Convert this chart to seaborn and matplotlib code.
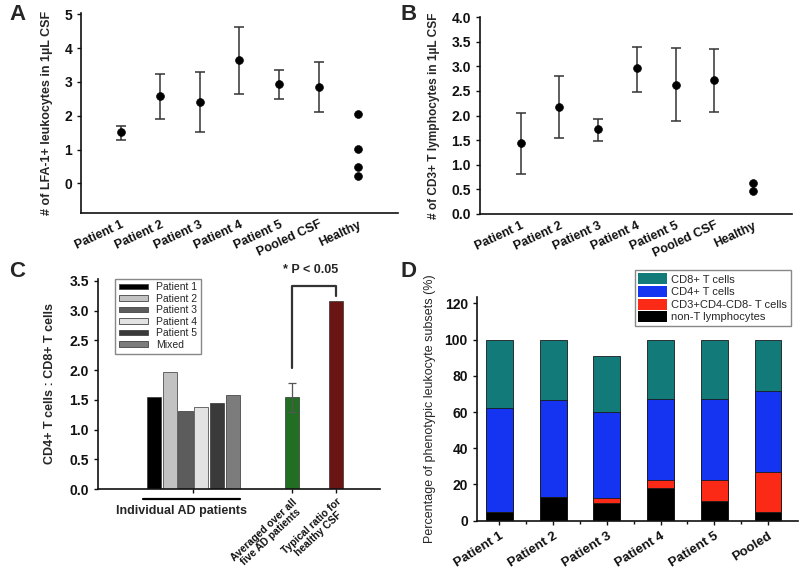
import numpy as np
import pandas as pd
import matplotlib.pyplot as plt
import seaborn as sns
from matplotlib.patches import Patch

sns.set_theme(style="ticks")
plt.rcParams['font.family'] = ['Liberation Sans', 'DejaVu Sans']

# ---------------------------------------------------
# data
# ---------------------------------------------------
groups = ["Patient 1", "Patient 2", "Patient 3", "Patient 4", "Patient 5", "Pooled CSF"]
healthy_label = "Healthy"

# A: LFA-1+ leukocytes per uL CSF
lfa_mean = [1.51, 2.57, 2.40, 3.64, 2.93, 2.86]
lfa_low = [1.28, 1.89, 1.51, 2.65, 2.51, 2.12]
lfa_high = [1.70, 3.25, 3.29, 4.63, 3.34, 3.59]
lfa_healthy = [2.04, 1.01, 0.47, 0.21]

# B: CD3+ T lymphocytes per uL CSF
cd3_mean = [1.44, 2.18, 1.72, 2.96, 2.63, 2.72]
cd3_low = [0.81, 1.55, 1.49, 2.48, 1.88, 2.07]
cd3_high = [2.05, 2.81, 1.93, 3.40, 3.37, 3.36]
cd3_healthy = [0.62, 0.46]

# C: CD4/CD8 ratio
ratio_labels = ["Patient 1", "Patient 2", "Patient 3", "Patient 4", "Patient 5", "Mixed"]
ratio_values = [1.55, 1.97, 1.31, 1.38, 1.44, 1.58]
summary_labels = ["Averaged over all\nfive AD patients", "Typical ratio for\nhealthy CSF"]
summary_values = [1.54, 3.17]
avg_low, avg_high = 1.30, 1.78

# D: phenotypic subsets (%)
subset_groups = ["Patient 1", "Patient 2", "Patient 3", "Patient 4", "Patient 5", "Pooled"]
non_t = [4.6, 12.9, 9.6, 18.0, 11.0, 4.8]
cd3_dn = [0.0, 0.0, 2.7, 4.3, 11.3, 21.9]
cd4 = [57.5, 53.8, 47.6, 44.7, 45.1, 44.8]
cd8 = [37.9, 33.3, 30.9, 33.0, 32.6, 28.5]
subset_names = ["CD8+ T cells", "CD4+ T cells", "CD3+CD4-CD8- T cells", "non-T lymphocytes"]

# ---------------------------------------------------
# styles / layout
# ---------------------------------------------------
ratio_colors = ['#000000', '#c2c2c2', '#5c5c5c', '#e2e2e2', '#3a3a3a', '#7c7c7c']
summary_colors = ['#167a16', '#780606']
subset_colors = ['#127a78', '#1434f2', '#fb2a16', '#000000']

fig = plt.figure(figsize=(8, 5.72), dpi=100)
axA = fig.add_axes([0.1013, 0.6276, 0.396, 0.349])
axB = fig.add_axes([0.600, 0.6259, 0.390, 0.345])
axC = fig.add_axes([0.1225, 0.1451, 0.3525, 0.368])
axD = fig.add_axes([0.596, 0.0897, 0.401, 0.391])

for ax in (axA, axB, axC, axD):
    sns.despine(ax=ax)
    for s in ('left', 'bottom'):
        ax.spines[s].set_linewidth(1.2)
        ax.spines[s].set_color('#111111')
    ax.tick_params(axis='both', colors='#111111', width=1, length=3)


def dot_panel(ax, mean, low, high, healthy, ylabel, ysize):
    df = pd.DataFrame({
        'group': groups + [healthy_label] * len(healthy),
        'value': mean + healthy,
    })
    sns.scatterplot(data=df, x='group', y='value', ax=ax, color='black',
                    s=32, edgecolor='black', zorder=3, legend=False)
    yerr = [np.subtract(mean, low), np.subtract(high, mean)]
    ax.errorbar(groups, mean, yerr=yerr, fmt='none', ecolor='#333333',
                elinewidth=1.1, capsize=3.5, capthick=1.1, zorder=2)
    ax.set_xlabel('')
    ax.set_ylabel(ylabel, fontsize=ysize, fontweight='bold', labelpad=8)
    ax.tick_params(axis='x', length=0, pad=4)
    for lab in ax.get_xticklabels():
        lab.set_rotation(25)
        lab.set_ha('right')
        lab.set_rotation_mode('anchor')
        lab.set_fontsize(9)
        lab.set_fontweight('bold')


# ---------------- A ----------------
dot_panel(axA, lfa_mean, lfa_low, lfa_high, lfa_healthy,
          "# of LFA-1+ leukocytes in 1\u00b5L CSF", 9)
axA.set_ylim(-0.88, 5.03)
axA.set_yticks(range(0, 6))
axA.set_yticklabels([str(v) for v in range(0, 6)], fontsize=10, fontweight='bold')
axA.set_xlim(-1, 7)

# ---------------- B ----------------
dot_panel(axB, cd3_mean, cd3_low, cd3_high, cd3_healthy,
          "# of CD3+ T lymphocytes in 1\u00b5L CSF", 8.6)
axB.set_ylim(0, 4.01)
bt = np.arange(0, 4.01, 0.5)
axB.set_yticks(bt)
axB.set_yticklabels([f"{v:.1f}" for v in bt], fontsize=10, fontweight='bold')
axB.set_xlim(-1.05, 7)

# ---------------- C ----------------
ratio_pos = [0, 1, 2, 3, 4, 5]
summary_pos = [8.73, 11.52]
dfc = pd.DataFrame({
    'pos': ratio_pos + summary_pos,
    'ratio': ratio_values + summary_values,
    'name': ratio_labels + ['avg', 'healthy'],
})
sns.barplot(data=dfc, x='pos', y='ratio', hue='name', native_scale=True,
            palette=ratio_colors + summary_colors, width=0.9, ax=axC,
            edgecolor='#333333', linewidth=0.5, legend=False)
axC.errorbar(summary_pos[0], summary_values[0],
             yerr=[[summary_values[0] - avg_low], [avg_high - summary_values[0]]],
             fmt='none', ecolor='#555555', elinewidth=0.9, capsize=3, capthick=0.9)
axC.plot([summary_pos[0], summary_pos[0], summary_pos[1], summary_pos[1]],
         [2.04, 3.42, 3.42, 3.24], color='#333333', lw=1.6, clip_on=False)
axC.text(np.mean(summary_pos) - 0.2, 3.58, "* P < 0.05", ha='center', va='bottom',
         fontsize=9, fontweight='bold')
axC.set_xlim(-3.54, 14.3)
axC.set_ylim(0, 3.54)
ct = np.arange(0, 3.51, 0.5)
axC.set_yticks(ct)
axC.set_yticklabels([f"{v:.1f}" for v in ct], fontsize=10, fontweight='bold')
axC.set_xticks([2.5] + summary_pos)
axC.set_xticklabels([''] + summary_labels, rotation=43, ha='right', va='top',
                    rotation_mode='anchor', fontsize=7.4, fontweight='bold',
                    multialignment='center', linespacing=1.05)
axC.tick_params(axis='x', pad=2.5)
axC.set_xlabel('')
axC.set_ylabel("CD4+ T cells : CD8+ T cells", fontsize=9, fontweight='bold', labelpad=10)
trans = axC.get_xaxis_transform()
axC.plot([-0.7, 5.44], [-0.047, -0.047], color='black', lw=1.6, transform=trans, clip_on=False)
axC.text(1.77, -0.105, "Individual AD patients", transform=trans, ha='center', va='center',
         fontsize=9, fontweight='bold')
handles = [Patch(facecolor=c, edgecolor='#444444', linewidth=0.6) for c in ratio_colors]
axC.legend(handles, ratio_labels, loc='upper left', bbox_to_anchor=(0.06, 1.0),
           borderaxespad=0, fontsize=7.5, handlelength=2.8, handleheight=0.45,
           labelspacing=0.15, handletextpad=0.8, borderpad=0.35,
           fancybox=False, edgecolor='#888888', framealpha=1)

# ---------------- D ----------------
layers = [non_t, cd3_dn, cd4, cd8]
cum = np.cumsum(layers, axis=0)
for i in range(3, -1, -1):
    dfd = pd.DataFrame({'group': subset_groups, 'value': cum[i]})
    sns.barplot(data=dfd, x='group', y='value', ax=axD, color=subset_colors[3 - i],
                width=0.5, edgecolor='#1a1a1a', linewidth=0.6, saturation=1)
axD.set_xlim(-0.42, 5.55)
axD.set_ylim(0, 123.5)
axD.set_yticks(range(0, 121, 20))
axD.set_yticklabels([str(v) for v in range(0, 121, 20)], fontsize=10, fontweight='bold')
axD.set_xticks(np.arange(0.5, 5.5, 1), minor=True)
axD.tick_params(axis='x', which='minor', length=2, width=1, colors='#111111')
axD.set_xlabel('')
axD.set_ylabel("Percentage of phenotypic leukocyte subsets (%)", fontsize=9, labelpad=6)
for lab in axD.get_xticklabels():
    lab.set_rotation(32)
    lab.set_ha('right')
    lab.set_rotation_mode('anchor')
    lab.set_fontsize(9.5)
    lab.set_fontweight('bold')
dh = [Patch(facecolor=c, edgecolor='none') for c in subset_colors]
axD.legend(dh, subset_names, loc='upper right', bbox_to_anchor=(0.978, 1.121),
           borderaxespad=0, fontsize=8, handlelength=2.6, handleheight=1.15,
           labelspacing=0.12, handletextpad=0.4, borderpad=0.3,
           fancybox=False, edgecolor='#888888', framealpha=1)

# panel letters
for letter, (x, y) in zip("ABCD", [(0.012, 0.975), (0.500, 0.975), (0.012, 0.525), (0.500, 0.525)]):
    fig.text(x, y, letter, fontsize=16, fontweight='bold', ha='left', va='center')

fig.savefig('out.png', dpi=100)
